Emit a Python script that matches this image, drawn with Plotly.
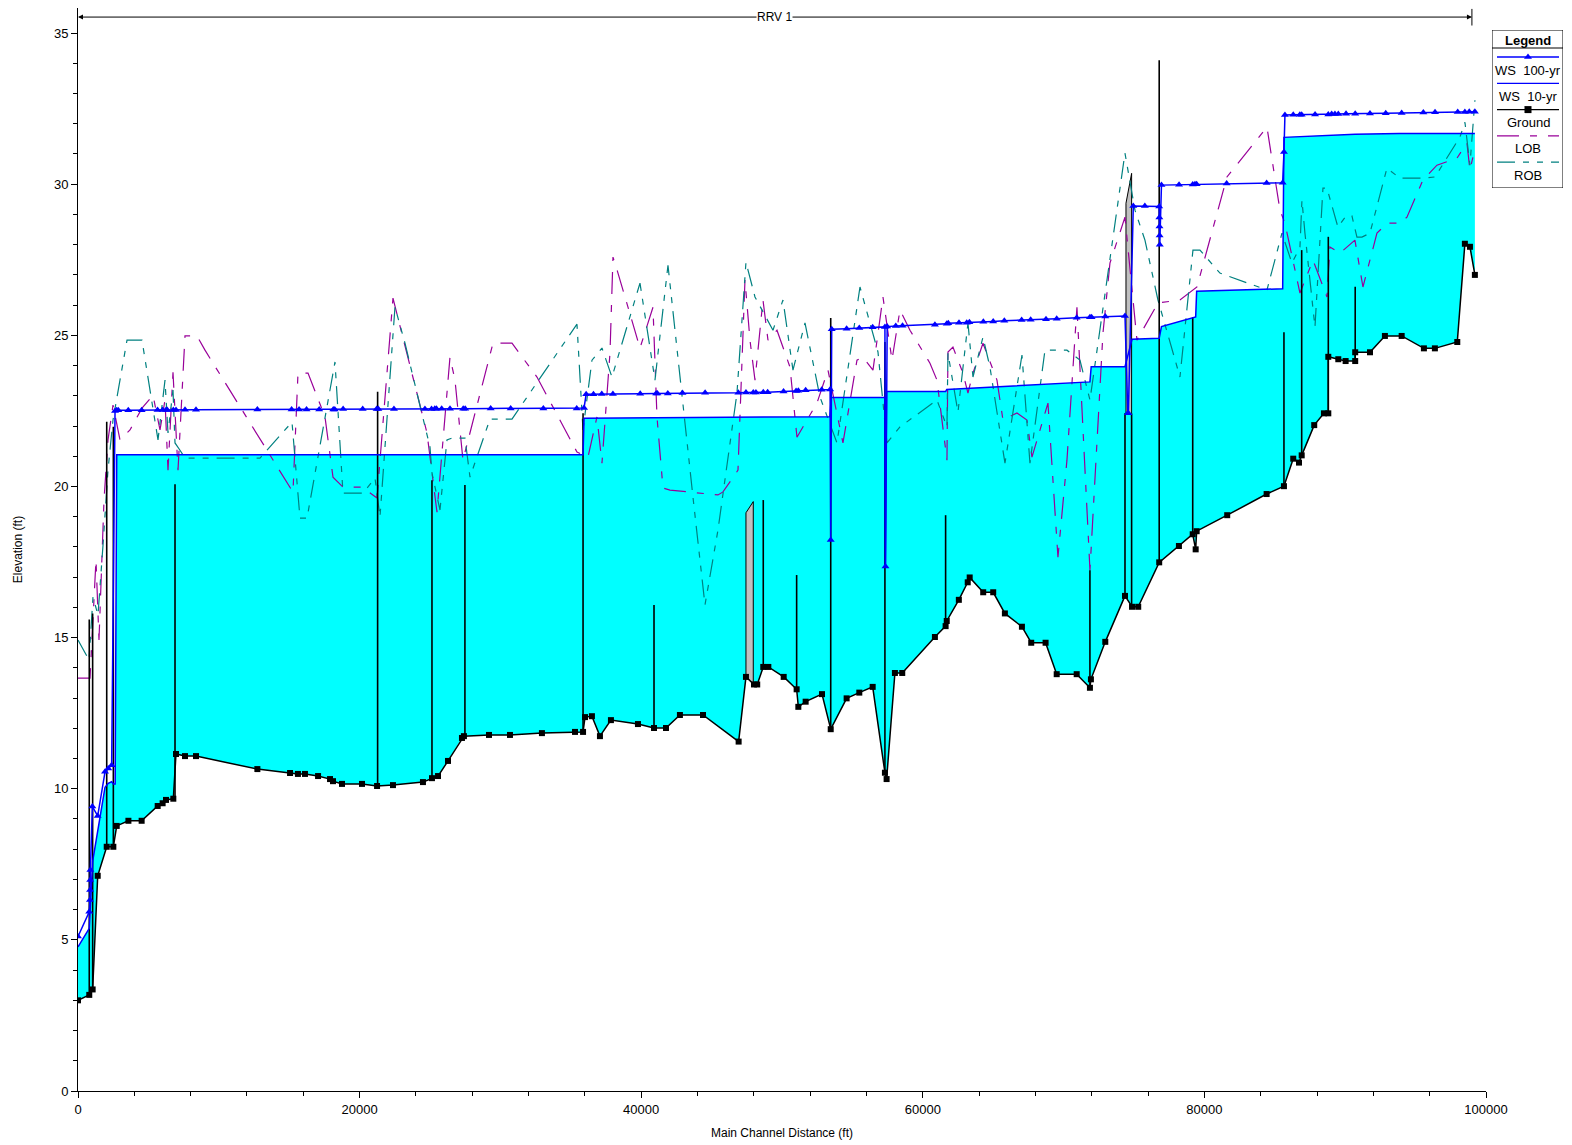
import plotly.graph_objects as go

# ---------------- data (Main Channel Distance ft, Elevation ft) ----------------
ground_profile = [
    (0, 3.0), (800, 3.18), (1040, 3.36), (1400, 7.12), (2040, 8.08), (2510, 8.08), (2750, 8.77),
    (3580, 8.94), (4520, 8.94), (5660, 9.43), (6010, 9.52), (6250, 9.63), (6770, 9.67), (6960, 11.15),
    (7600, 11.08), (8380, 11.08), (12740, 10.65), (15060, 10.52), (15620, 10.49), (16120, 10.49),
    (17050, 10.42), (17900, 10.32), (18110, 10.25), (18750, 10.16), (20170, 10.16), (21240, 10.09),
    (22370, 10.12), (24500, 10.22), (25140, 10.35), (25570, 10.42), (26280, 10.92), (27270, 11.68),
    (27410, 11.74), (29190, 11.78), (30680, 11.78), (32950, 11.84), (35300, 11.88), (35870, 11.88),
    (36010, 12.37), (36500, 12.40), (37070, 11.74), (37850, 12.27), (39770, 12.14), (40910, 12.01),
    (41760, 12.01), (42750, 12.44), (44390, 12.44), (46920, 11.56), (47440, 13.70), (48010, 13.45),
    (48240, 13.45), (48670, 14.03), (49030, 14.03), (50120, 13.70), (51040, 13.29), (51160, 12.71),
    (51680, 12.88), (52840, 13.13), (53460, 11.97), (54590, 12.99), (55490, 13.18), (56440, 13.37),
    (57310, 10.53), (57430, 10.32), (58020, 13.83), (58540, 13.83), (60860, 15.02), (61620, 15.38),
    (61700, 15.55), (62560, 16.25), (63190, 16.83), (63330, 16.99), (64290, 16.50), (65000, 16.50),
    (65830, 15.80), (67040, 15.36), (67700, 14.83), (68720, 14.83), (69510, 13.79), (70930, 13.79),
    (71870, 13.34), (71940, 13.62), (72960, 14.86), (74360, 16.38), (74860, 16.02), (75300, 16.02),
    (76790, 17.49), (78190, 18.03), (79170, 18.42), (79380, 17.92), (79450, 18.52), (81620, 19.05),
    (84420, 19.75), (85650, 20.01), (86310, 20.92), (86720, 20.79), (86910, 21.03), (87800, 22.03),
    (88490, 22.42), (88800, 22.42), (88800, 24.29), (89510, 24.21), (90030, 24.15), (90710, 24.15),
    (90710, 24.44), (91760, 24.44), (92820, 24.98), (94010, 24.98), (95590, 24.57), (96370, 24.57),
    (97960, 24.78), (98500, 28.03), (98860, 27.93), (99210, 27.00),
]

ws_10yr = [
    (0, 4.77), (800, 5.38), (1040, 7.6), (1400, 8.6), (1920, 10.05), (2150, 10.18), (2390, 10.23),
    (2510, 10.16), (2640, 10.16), (2750, 21.05), (35870, 21.05), (35940, 22.26), (53400, 22.31),
    (53500, 22.94), (57310, 22.94), (57340, 17.35), (57430, 23.14), (61620, 23.14), (61700, 23.21),
    (71870, 23.46), (71960, 23.96), (74360, 23.96), (74860, 24.87), (76790, 24.90), (76950, 25.29),
    (79380, 25.61), (79450, 26.46), (85560, 26.54), (85650, 31.55), (90710, 31.65), (93840, 31.68),
    (99210, 31.68),
]

ws_100yr = [
    (0, 5.11), (800, 5.93), (850, 6.32), (860, 6.65), (870, 6.98), (880, 7.31), (1020, 9.41),
    (1400, 9.10), (1920, 10.56), (2150, 10.67), (2390, 10.78), (2630, 22.50), (2750, 22.52),
    (2860, 22.52), (3570, 22.52), (4520, 22.52), (5650, 22.53), (6010, 22.53), (6250, 22.53),
    (6340, 22.53), (6770, 22.53), (6960, 22.53), (7600, 22.54), (8380, 22.54), (12740, 22.55),
    (15170, 22.55), (15700, 22.55), (16230, 22.55), (17130, 22.55), (18130, 22.55), (18240, 22.55),
    (18830, 22.56), (20220, 22.56), (21210, 22.56), (21330, 22.56), (22440, 22.56), (24640, 22.56),
    (25110, 22.56), (25340, 22.57), (25460, 22.57), (25830, 22.57), (26420, 22.57), (27360, 22.57),
    (27500, 22.57), (29310, 22.58), (30730, 22.58), (33050, 22.58), (35420, 22.58), (35940, 22.60),
    (36090, 23.05), (36610, 23.05), (37200, 23.06), (37990, 23.06), (39930, 23.07), (41060, 23.08),
    (41150, 23.08), (41890, 23.08), (42930, 23.09), (44540, 23.10), (46900, 23.10), (47440, 23.11),
    (47960, 23.11), (48150, 23.11), (48670, 23.12), (48980, 23.12), (50110, 23.14), (51000, 23.16),
    (51160, 23.17), (51680, 23.18), (52820, 23.20), (53420, 23.21), (53460, 18.23), (53530, 25.20),
    (54590, 25.22), (55490, 25.24), (56440, 25.27), (57310, 25.28), (57350, 17.35), (57470, 25.29),
    (58080, 25.31), (58560, 25.32), (60860, 25.35), (61700, 25.38), (61810, 25.40), (62570, 25.42),
    (63120, 25.42), (63310, 25.43), (64300, 25.45), (65000, 25.46), (65790, 25.48), (67020, 25.51),
    (67660, 25.52), (68750, 25.53), (69510, 25.55), (70930, 25.58), (71870, 25.60), (71990, 25.60),
    (72960, 25.62), (74360, 25.64), (74560, 22.42), (74600, 22.42), (74950, 29.28), (75770, 29.28),
    (76790, 29.26), (76800, 28.90), (76810, 28.60), (76820, 28.30), (76830, 28.00), (76950, 29.97),
    (78200, 29.98), (79170, 29.99), (79330, 30.00), (79450, 30.00), (81580, 30.02), (84420, 30.04),
    (85560, 30.05), (85650, 31.07), (85720, 32.29), (86310, 32.30), (86780, 32.30), (86910, 32.30),
    (87860, 32.31), (88800, 32.31), (89040, 32.32), (89270, 32.32), (89510, 32.32), (90060, 32.33),
    (90710, 32.33), (91760, 32.34), (92880, 32.35), (94010, 32.36), (95550, 32.37), (96380, 32.38),
    (97990, 32.39), (98500, 32.39), (98810, 32.40), (99210, 32.40),
]

lob = [
    (0, 13.66), (852, 13.66), (1278, 17.57), (1491, 14.92), (1847, 19.55), (2131, 21.54), (2486, 22.69),
    (2983, 21.54), (3693, 21.87), (4545, 22.59), (5327, 23.02), (5824, 21.87), (6179, 22.86),
    (6392, 20.54), (6747, 23.78), (7102, 20.54), (7599, 24.98), (8451, 24.98), (9020, 24.51),
    (15269, 19.81), (15624, 23.75), (16335, 23.75), (17542, 22.30), (18110, 20.31), (18820, 19.98),
    (20170, 19.98), (21235, 19.62), (22371, 26.23), (24786, 21.77), (25496, 19.15), (26419, 24.28),
    (26774, 23.52), (27342, 20.87), (29118, 24.18), (29473, 24.74), (30823, 24.74), (32598, 23.62),
    (35439, 21.14), (36220, 20.97), (36859, 22.30), (37214, 20.77), (37783, 24.41), (37996, 27.59),
    (38351, 27.06), (39913, 24.58), (40837, 25.93), (41050, 23.52), (41121, 22.30), (41547, 19.95),
    (42044, 19.88), (45453, 19.72), (45808, 19.82), (46874, 20.54), (47371, 26.83), (47726, 24.84),
    (48081, 23.52), (48649, 26.17), (49004, 24.84), (49643, 25.17), (50566, 23.95), (51063, 21.63),
    (52483, 22.76), (53265, 23.85), (54330, 21.44), (55325, 24.18), (55751, 24.28), (56461, 23.85),
    (57171, 26.27), (57810, 24.18), (58378, 25.84), (59089, 25.17), (60509, 24.08), (61006, 23.52),
    (61716, 20.87), (61787, 24.45), (62142, 24.61), (62852, 23.75), (63207, 23.09), (63563, 23.75),
    (64273, 24.74), (65267, 23.52), (65693, 22.20), (66687, 22.43), (67397, 22.20), (67752, 20.97),
    (68889, 22.76), (69599, 17.66), (70238, 20.87), (70948, 25.93), (71872, 17.23), (72795, 25.07),
    (73292, 27.39), (74358, 28.91), (75210, 24.84), (76702, 26.07), (78264, 26.17), (79471, 26.60),
    (81602, 30.24), (84443, 31.89), (85366, 29.14), (85721, 28.71), (86786, 26.40), (87710, 27.49),
    (88704, 26.27), (88917, 27.92), (89627, 27.72), (90692, 28.15), (91260, 26.60), (92255, 28.38),
    (92965, 28.71), (93888, 28.71), (94385, 28.91), (95522, 30.14), (96516, 30.63), (97936, 30.86),
    (98646, 31.36), (98859, 30.47), (99072, 30.90),
]

rob = [
    (0, 14.92), (781, 14.26), (1065, 16.34), (1420, 15.75), (1776, 18.06), (2131, 20.54), (2486, 22.20),
    (3480, 24.84), (4545, 24.84), (5682, 21.54), (6179, 23.52), (6392, 21.77), (6747, 23.19),
    (6889, 21.44), (7244, 21.20), (7599, 20.94), (12926, 20.94), (15198, 22.13), (15766, 18.95),
    (16264, 18.95), (18252, 24.12), (18749, 20.44), (18820, 19.78), (20241, 19.78), (21093, 20.28),
    (21448, 18.99), (22513, 25.94), (23223, 24.74), (24999, 21.30), (25141, 20.44), (25709, 19.22),
    (26206, 21.54), (26561, 21.60), (27485, 21.60), (27840, 20.31), (29260, 22.23), (30823, 22.23),
    (35439, 25.37), (35865, 21.87), (36504, 24.18), (37214, 24.58), (37925, 23.62), (39913, 26.73),
    (40978, 23.52), (41902, 27.32), (43677, 19.65), (44530, 16.08), (45453, 18.56), (46802, 23.09),
    (47441, 27.42), (48080, 26.27), (49359, 25.17), (50069, 26.17), (50779, 23.85), (51632, 25.41),
    (52697, 22.96), (53904, 21.44), (55538, 26.60), (56816, 24.45), (57455, 21.44), (58378, 21.97),
    (61006, 22.86), (61716, 21.97), (61787, 24.41), (62498, 22.46), (63208, 25.41), (63563, 23.62),
    (64273, 24.94), (64770, 23.95), (65835, 20.77), (67043, 24.35), (67611, 20.77), (68676, 24.51),
    (70238, 24.51), (71161, 24.18), (71872, 22.86), (73292, 27.49), (74358, 31.03), (75068, 29.14),
    (75778, 28.15), (76702, 26.17), (78264, 23.62), (79187, 27.82), (79684, 27.82), (81104, 27.06),
    (84443, 26.50), (85508, 28.38), (86218, 27.39), (86786, 27.92), (86928, 29.47), (87141, 28.38),
    (87852, 25.27), (88420, 29.87), (88704, 29.87), (89485, 28.58), (90053, 28.95), (90479, 28.95),
    (90834, 28.25), (91189, 28.25), (91757, 28.38), (92965, 30.53), (93888, 30.20), (95522, 30.20),
    (96374, 30.24), (98149, 31.56), (98504, 32.05), (98859, 30.63), (99214, 32.78),
]

# structure lines: station, bottom elevation, top elevation
struct_station = [800, 1040, 2040, 2510, 6890, 21280, 25140, 27480, 35870, 40910, 48670, 51040,
                  53460, 57310, 61620, 71870, 74360, 74830, 76790, 79170, 85650, 86910, 88800, 90710]
struct_bottom = [3.18, 3.36, 8.08, 8.08, 9.67, 10.09, 10.35, 11.74, 11.88, 12.01, 14.03, 13.29,
                 11.97, 10.53, 15.38, 13.34, 16.38, 16.10, 17.49, 18.42, 20.01, 21.03, 22.42, 24.15]
struct_top = [15.6, 15.8, 22.14, 21.98, 20.07, 23.13, 20.21, 20.05, 22.42, 16.08, 19.55, 17.07,
              25.57, 24.78, 19.05, 17.23, 22.42, 22.42, 34.1, 25.6, 25.1, 27.82, 28.26, 26.61]

# bridge decks (grey)
deck1_x = [47440, 47440, 47960, 47960]
deck1_y = [13.70, 19.13, 19.50, 13.45]
deck2_x = [74430, 74430, 74830, 74830]
deck2_y = [22.42, 29.37, 30.36, 22.42]

reach_name = "RRV 1"
reach_start, reach_end = 0, 99000

# ---------------- figure ----------------
gx = [p[0] for p in ground_profile]
gy = [p[1] for p in ground_profile]
w10x = [p[0] for p in ws_10yr]
w10y = [p[1] for p in ws_10yr]
w100x = [p[0] for p in ws_100yr]
w100y = [p[1] for p in ws_100yr]

BLUE = "#0000FF"
CYAN = "#00FFFF"
PURPLE = "#990099"
TEAL = "#008080"
LOB_DASH = "22px,11px,7px,11px"
ROB_DASH = "18px,8px,6px,8px,6px,8px"

fig = go.Figure()

fig.add_trace(go.Scatter(x=w10x + gx[::-1], y=w10y + gy[::-1], mode="lines", fill="toself",
                         fillcolor=CYAN, line=dict(width=0), hoverinfo="skip", showlegend=False))
for dx, dy in ((deck1_x, deck1_y), (deck2_x, deck2_y)):
    fig.add_trace(go.Scatter(x=dx, y=dy, mode="lines", fill="toself", fillcolor="#C0C0C0",
                             line=dict(color="black", width=1), showlegend=False, hoverinfo="skip"))
fig.add_trace(go.Scatter(x=[p[0] for p in lob], y=[p[1] for p in lob], mode="lines",
                         line=dict(color=PURPLE, width=1.2, dash=LOB_DASH), name="LOB", showlegend=False))
fig.add_trace(go.Scatter(x=[p[0] for p in rob], y=[p[1] for p in rob], mode="lines",
                         line=dict(color=TEAL, width=1.2, dash=ROB_DASH), name="ROB", showlegend=False))
sx, sy = [], []
for s, b, t in zip(struct_station, struct_bottom, struct_top):
    sx += [s, s, None]
    sy += [b, t, None]
fig.add_trace(go.Scatter(x=sx, y=sy, mode="lines", line=dict(color="black", width=1.6),
                         showlegend=False, hoverinfo="skip"))
fig.add_trace(go.Scatter(x=gx, y=gy, mode="lines+markers", name="Ground",
                         line=dict(color="black", width=1.5),
                         marker=dict(symbol="square", size=6, color="black"), showlegend=False))
fig.add_trace(go.Scatter(x=w10x, y=w10y, mode="lines", name="WS  10-yr",
                         line=dict(color=BLUE, width=1.5), showlegend=False))
fig.add_trace(go.Scatter(x=w100x, y=w100y, mode="lines+markers", name="WS  100-yr",
                         line=dict(color=BLUE, width=1.5),
                         marker=dict(symbol="triangle-up", size=7, color=BLUE), showlegend=False))

# ---------------- custom legend (HEC-RAS style) on auxiliary axes ----------------
leg_rows = [("WS  100-yr", BLUE, "solid", "triangle-up"),
            ("WS  10-yr", BLUE, "solid", None),
            ("Ground", "black", "solid", "square"),
            ("LOB", PURPLE, LOB_DASH, None),
            ("ROB", TEAL, ROB_DASH, None)]
for i, (lbl, col, dash, sym) in enumerate(leg_rows):
    ly = 27 + 26.3 * i
    fig.add_trace(go.Scatter(x=[5, 67], y=[ly, ly], mode="lines", xaxis="x2", yaxis="y2",
                             line=dict(color=col, width=1.3, dash=dash),
                             showlegend=False, hoverinfo="skip"))
    if sym:
        fig.add_trace(go.Scatter(x=[36], y=[ly], mode="markers", xaxis="x2", yaxis="y2",
                                 marker=dict(symbol=sym, size=7, color=col),
                                 showlegend=False, hoverinfo="skip"))
    fig.add_annotation(x=36, y=ly + 13, xref="x2", yref="y2", text=lbl, showarrow=False,
                       font=dict(size=13, color="black"), xanchor="center", yanchor="middle")
fig.add_annotation(x=36, y=10, xref="x2", yref="y2", text="<b>Legend</b>", showarrow=False,
                   font=dict(size=13, color="black"), xanchor="center", yanchor="middle")
fig.add_shape(type="rect", x0=0, x1=71, y0=0, y1=158, xref="x2", yref="y2",
              line=dict(color="black", width=1))
fig.add_shape(type="line", x0=0, x1=71, y0=18, y1=18, xref="x2", yref="y2",
              line=dict(color="black", width=1))

# ---------------- reach annotation ----------------
ry = 35.53
mid = (reach_start + reach_end) / 2
for end in (reach_start, reach_end):
    fig.add_annotation(x=end, y=ry, ax=mid, ay=ry, xref="x", yref="y", axref="x", ayref="y",
                       text="", showarrow=True, arrowhead=2, arrowsize=1, arrowwidth=1,
                       arrowcolor="black")
fig.add_shape(type="line", x0=reach_end, x1=reach_end, y0=35.25, y1=35.8, xref="x", yref="y",
              line=dict(color="black", width=1))
fig.add_annotation(x=mid, y=ry, text=reach_name, showarrow=False, bgcolor="white",
                   font=dict(size=12, color="black"), borderpad=0)

axis_common = dict(showline=True, linecolor="black", linewidth=1, ticks="outside", ticklen=6,
                   tickcolor="black", showgrid=False, zeroline=False, automargin=False,
                   tickfont=dict(size=13, color="black"))
fig.update_layout(
    width=1572, height=1145,
    margin=dict(l=78, r=0, t=8, b=54, autoexpand=False),
    paper_bgcolor="white", plot_bgcolor="white",
    font=dict(family="Liberation Sans, Arial, sans-serif", size=13, color="black"),
    showlegend=False,
    xaxis=dict(domain=[0, 1408 / 1494], range=[0, 100000], dtick=20000, tick0=0, tickformat="d",
               minor=dict(dtick=4000, ticks="outside", ticklen=4, tickcolor="black"),
               title=dict(text="Main Channel Distance (ft)", font=dict(size=12), standoff=13),
               **axis_common),
    yaxis=dict(range=[0, 35.83], dtick=5, tick0=0,
               minor=dict(dtick=1, ticks="outside", ticklen=4, tickcolor="black"),
               title=dict(text="Elevation (ft)", font=dict(size=12), standoff=28),
               **axis_common),
    xaxis2=dict(domain=[1414 / 1494, 1485 / 1494], range=[0, 71], visible=False, anchor="y2",
                fixedrange=True, automargin=False),
    yaxis2=dict(domain=[903 / 1083, 1061 / 1083], range=[158, 0], visible=False, anchor="x2",
                fixedrange=True, automargin=False),
)

fig.write_html("out.html", config={"displayModeBar": False},
               post_script="document.body.style.margin='0';document.body.style.padding='0';")
